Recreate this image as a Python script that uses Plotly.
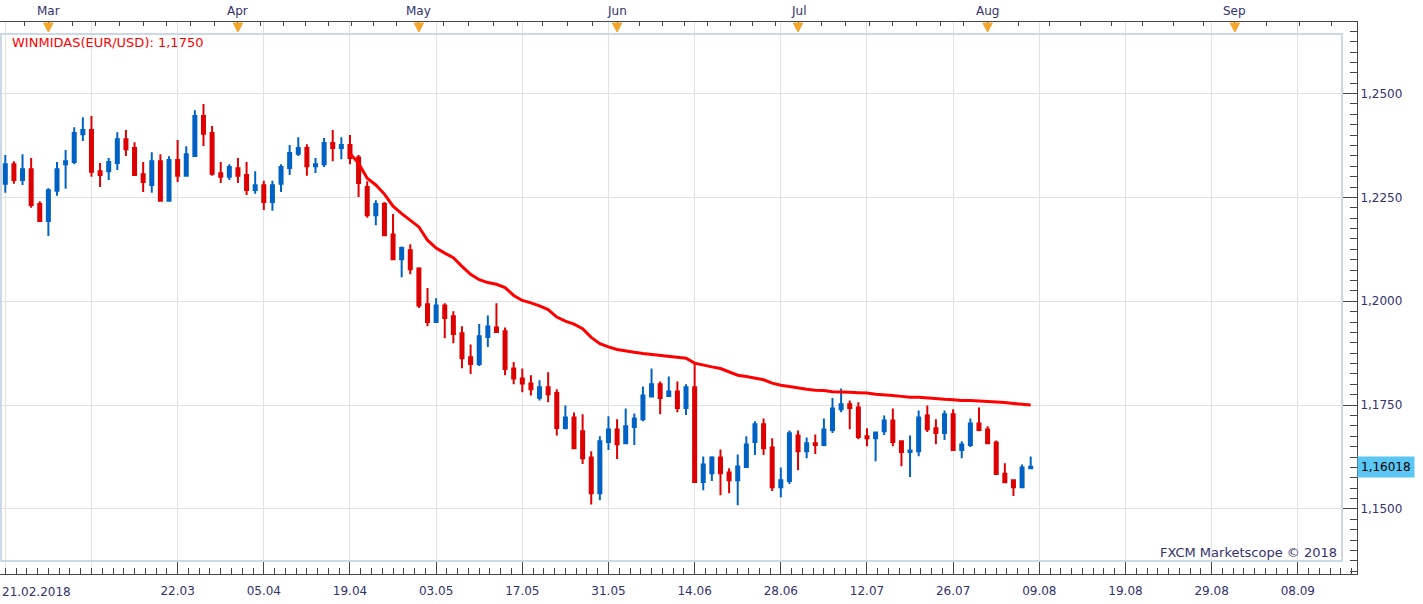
import plotly.graph_objects as go

# ---------------- data (EUR/USD daily, trading-day index 0 = 22.02.2018) ----------------
day_idx = list(range(120))

opens = [
    1.2283, 1.2330, 1.2292, 1.2318, 1.2234, 1.2193, 1.2266, 1.2330, 1.2335, 1.2402,
    1.2412, 1.2313, 1.2313, 1.2333, 1.2390, 1.2369, 1.2306, 1.2280, 1.2337, 1.2242,
    1.2340, 1.2302, 1.2350, 1.2446, 1.2405, 1.2308, 1.2300, 1.2320, 1.2304, 1.2268,
    1.2279, 1.2239, 1.2283, 1.2321, 1.2355, 1.2369, 1.2325, 1.2330, 1.2381, 1.2369,
    1.2376, 1.2346, 1.2275, 1.2207, 1.2234, 1.2161, 1.2101, 1.2123, 1.2079, 1.1993,
    1.1950, 1.1990, 1.1964, 1.1923, 1.1865, 1.1849, 1.1914, 1.1937, 1.1928, 1.1838,
    1.1814, 1.1802, 1.1768, 1.1793, 1.1779, 1.1695, 1.1720, 1.1687, 1.1624, 1.1538,
    1.1661, 1.1691, 1.1658, 1.1697, 1.1716, 1.1771, 1.1800, 1.1772, 1.1783, 1.1743,
    1.1793, 1.1565, 1.1586, 1.1624, 1.1588, 1.1569, 1.1601, 1.1661, 1.1704, 1.1648,
    1.1552, 1.1567, 1.1677, 1.1639, 1.1658, 1.1654, 1.1690, 1.1740, 1.1752, 1.1744,
    1.1675, 1.1670, 1.1687, 1.1713, 1.1663, 1.1637, 1.1639, 1.1725, 1.1694, 1.1683,
    1.1728, 1.1642, 1.1654, 1.1706, 1.1691, 1.1660, 1.1585, 1.1569, 1.1552, 1.1598,
]
highs = [
    1.2352, 1.2337, 1.2354, 1.2345, 1.2241, 1.2272, 1.2335, 1.2364, 1.2419, 1.2443,
    1.2446, 1.2333, 1.2345, 1.2407, 1.2412, 1.2383, 1.2335, 1.2359, 1.2354, 1.2349,
    1.2388, 1.2373, 1.2460, 1.2475, 1.2422, 1.2335, 1.2330, 1.2345, 1.2335, 1.2313,
    1.2290, 1.2290, 1.2330, 1.2376, 1.2395, 1.2378, 1.2345, 1.2393, 1.2412, 1.2395,
    1.2400, 1.2352, 1.2289, 1.2243, 1.2239, 1.2210, 1.2132, 1.2137, 1.2082, 1.2032,
    1.2007, 1.1995, 1.1976, 1.1940, 1.1896, 1.1945, 1.1966, 1.1995, 1.1937, 1.1854,
    1.1838, 1.1822, 1.1810, 1.1829, 1.1788, 1.1749, 1.1732, 1.1728, 1.1639, 1.1675,
    1.1723, 1.1716, 1.1742, 1.1730, 1.1795, 1.1838, 1.1807, 1.1819, 1.1807, 1.1800,
    1.1851, 1.1626, 1.1627, 1.1643, 1.1598, 1.1631, 1.1675, 1.1711, 1.1718, 1.1670,
    1.1600, 1.1689, 1.1689, 1.1672, 1.1679, 1.1718, 1.1767, 1.1790, 1.1761, 1.1757,
    1.1694, 1.1684, 1.1725, 1.1742, 1.1663, 1.1677, 1.1737, 1.1749, 1.1716, 1.1737,
    1.1740, 1.1663, 1.1718, 1.1744, 1.1699, 1.1665, 1.1610, 1.1569, 1.1607, 1.1626,
]
lows = [
    1.2261, 1.2283, 1.2280, 1.2225, 1.2191, 1.2157, 1.2254, 1.2271, 1.2330, 1.2386,
    1.2300, 1.2275, 1.2292, 1.2316, 1.2350, 1.2302, 1.2263, 1.2261, 1.2242, 1.2240,
    1.2287, 1.2300, 1.2348, 1.2374, 1.2302, 1.2285, 1.2292, 1.2285, 1.2256, 1.2259,
    1.2220, 1.2218, 1.2263, 1.2304, 1.2350, 1.2302, 1.2309, 1.2323, 1.2337, 1.2342,
    1.2330, 1.2251, 1.2201, 1.2183, 1.2159, 1.2100, 1.2058, 1.2065, 1.1984, 1.1940,
    1.1948, 1.1911, 1.1899, 1.1839, 1.1825, 1.1844, 1.1890, 1.1926, 1.1822, 1.1800,
    1.1781, 1.1773, 1.1761, 1.1757, 1.1677, 1.1691, 1.1646, 1.1608, 1.1511, 1.1521,
    1.1642, 1.1620, 1.1657, 1.1654, 1.1711, 1.1770, 1.1728, 1.1771, 1.1733, 1.1726,
    1.1564, 1.1545, 1.1567, 1.1533, 1.1538, 1.1509, 1.1600, 1.1630, 1.1630, 1.1543,
    1.1528, 1.1560, 1.1593, 1.1622, 1.1632, 1.1651, 1.1683, 1.1733, 1.1692, 1.1668,
    1.1651, 1.1615, 1.1678, 1.1651, 1.1603, 1.1577, 1.1627, 1.1685, 1.1656, 1.1666,
    1.1642, 1.1622, 1.1649, 1.1687, 1.1658, 1.1584, 1.1562, 1.1531, 1.1551, 1.1596,
]
closes = [
    1.2330, 1.2292, 1.2318, 1.2232, 1.2193, 1.2267, 1.2318, 1.2337, 1.2405, 1.2412,
    1.2312, 1.2304, 1.2335, 1.2390, 1.2366, 1.2304, 1.2287, 1.2337, 1.2242, 1.2340,
    1.2302, 1.2354, 1.2446, 1.2403, 1.2307, 1.2300, 1.2323, 1.2302, 1.2268, 1.2279,
    1.2239, 1.2279, 1.2323, 1.2357, 1.2369, 1.2325, 1.2330, 1.2381, 1.2369, 1.2376,
    1.2345, 1.2285, 1.2207, 1.2234, 1.2159, 1.2101, 1.2128, 1.2077, 1.1990, 1.1950,
    1.1990, 1.1960, 1.1921, 1.1863, 1.1849, 1.1916, 1.1939, 1.1926, 1.1837, 1.1814,
    1.1802, 1.1788, 1.1793, 1.1776, 1.1695, 1.1720, 1.1646, 1.1622, 1.1538, 1.1663,
    1.1691, 1.1656, 1.1699, 1.1718, 1.1773, 1.1800, 1.1767, 1.1783, 1.1743, 1.1793,
    1.1565, 1.1607, 1.1624, 1.1586, 1.1569, 1.1602, 1.1655, 1.1704, 1.1646, 1.1552,
    1.1569, 1.1682, 1.1639, 1.1658, 1.1654, 1.1691, 1.1742, 1.1752, 1.1743, 1.1673,
    1.1670, 1.1684, 1.1713, 1.1661, 1.1637, 1.1641, 1.1720, 1.1692, 1.1683, 1.1728,
    1.1642, 1.1655, 1.1706, 1.1690, 1.1658, 1.1584, 1.1564, 1.1552, 1.1600, 1.16018,
]

# WINMIDAS indicator (starts at trading day 40 = 19.04)
ma_idx = list(range(40, 120))
ma_vals = [
    1.2356, 1.2332, 1.2296, 1.2280, 1.2258, 1.2229, 1.2211, 1.2195, 1.2179, 1.2147,
    1.2128, 1.2116, 1.2105, 1.2084, 1.2065, 1.2052, 1.2045, 1.2041, 1.2033, 1.2014,
    1.2002, 1.1996, 1.1989, 1.1980, 1.1962, 1.1952, 1.1945, 1.1934, 1.1913, 1.1898,
    1.1890, 1.1884, 1.1880, 1.1877, 1.1874, 1.1872, 1.1869, 1.1867, 1.1865, 1.1863,
    1.1851, 1.1846, 1.1842, 1.1838, 1.1830, 1.1822, 1.1819, 1.1815, 1.1811, 1.1803,
    1.1798, 1.1795, 1.1791, 1.1788, 1.1786, 1.1785, 1.1782, 1.1782, 1.1781, 1.1780,
    1.1779, 1.1776, 1.1775, 1.1773, 1.1771, 1.1769, 1.1769, 1.1767, 1.1765, 1.1764,
    1.1763, 1.1761, 1.1761, 1.1760, 1.1759, 1.1758, 1.1756, 1.1754, 1.1752, 1.1750,
]

# bottom axis ticks (every 10 trading days)
x_tickvals = [0, 10, 20, 30, 40, 50, 60, 70, 80, 90, 100, 110, 120, 130, 140, 150]
x_ticktext = ["", "", "22.03", "05.04", "19.04", "03.05", "17.05", "31.05", "14.06",
              "28.06", "12.07", "26.07", "09.08", "19.08", "29.08", "08.09"]
first_date_label = "21.02.2018"

# top axis months
month_names = ["Mar", "Apr", "May", "Jun", "Jul", "Aug", "Sep"]
month_pos = [5, 27, 48, 71, 92, 114, 142.7]

# price axis
y_tickvals = [1.15, 1.175, 1.20, 1.225, 1.25]
y_ticktext = ["1,1500", "1,1750", "1,2000", "1,2250", "1,2500"]
last_price = 1.16018
last_price_text = "1,16018"
legend_text = "WINMIDAS(EUR/USD): 1,1750"
watermark = "FXCM Marketscope © 2018"

# ---------------- styling ----------------
BLUE = "#0062C4"
RED = "#DE0000"
MA_RED = "#FF0000"
AXIS = "#474747"
GRID = "#E2E2E2"
TXT = "#32326C"
FONT = "DejaVu Sans"

X_RANGE = [-0.615, 156.87]
Y_RANGE = [1.13434, 1.26723]

# top minor tick positions: 8 subdivisions per month
top_ticks = []
step0 = (month_pos[1] - month_pos[0]) / 8
p = month_pos[0] - step0
while p > X_RANGE[0]:
    top_ticks.append(p)
    p -= step0
for a, b in zip(month_pos[:-1], month_pos[1:]):
    for k in range(8):
        top_ticks.append(a + (b - a) * k / 8)
p = month_pos[-1]
while p < X_RANGE[1]:
    top_ticks.append(p)
    p += 3.72
top_ticks = sorted(top_ticks)

x_minor = [i * 1.25 for i in range(0, 126)]
y_minor = [1.13 + i * 0.0025 for i in range(0, 57)]

fig = go.Figure()

fig.add_trace(go.Candlestick(
    x=day_idx, open=opens, high=highs, low=lows, close=closes,
    increasing=dict(line=dict(color=BLUE, width=2), fillcolor=BLUE),
    decreasing=dict(line=dict(color=RED, width=2), fillcolor=RED),
    whiskerwidth=0, showlegend=False, hoverinfo="skip",
))

fig.add_trace(go.Scatter(
    x=ma_idx, y=ma_vals, mode="lines",
    line=dict(color=MA_RED, width=3), showlegend=False, hoverinfo="skip",
))

# dummy trace to activate top axis
fig.add_trace(go.Scatter(x=[None], y=[None], xaxis="x2", yaxis="y",
                         showlegend=False, hoverinfo="skip"))

shapes = []
# plot frame (light blue)
W, H = 1357.0, 552.0
shapes.append(dict(type="rect", xref="paper", yref="paper",
                   x0=1 / W, x1=1342 / W, y0=(574 - 561) / H, y1=(574 - 34) / H,
                   line=dict(color="#CCD8E6", width=2), fillcolor="rgba(0,0,0,0)",
                   layer="above"))
# orange month markers
for m in month_pos:
    shapes.append(dict(type="path", xref="x", yref="paper",
                       path=f"M {m - 0.55},{1 - 1 / H} L {m + 0.55},{1 - 1 / H} L {m},{1 - 10 / H} Z",
                       fillcolor="#F4A62A", line=dict(color="#F4A62A", width=1),
                       layer="above"))

annotations = []
for name, m in zip(month_names, month_pos):
    annotations.append(dict(x=m, xref="x", y=(574 - 11) / H, yref="paper",
                            text=name, showarrow=False, xanchor="center", yanchor="middle",
                            font=dict(family=FONT, size=12, color=TXT)))
annotations.append(dict(x=0, xref="paper", y=(574 - 592) / H, yref="paper",
                        text=first_date_label, showarrow=False, xanchor="left", yanchor="middle",
                        font=dict(family=FONT, size=12, color=TXT)))
annotations.append(dict(x=10 / W, xref="paper", y=(574 - 43) / H, yref="paper",
                        text=legend_text, showarrow=False, xanchor="left", yanchor="middle",
                        font=dict(family=FONT, size=13, color=MA_RED)))
annotations.append(dict(x=1339 / W, xref="paper", y=(574 - 552) / H, yref="paper",
                        text=watermark, showarrow=False, xanchor="right", yanchor="middle",
                        font=dict(family=FONT, size=13, color=TXT)))
annotations.append(dict(x=1.0, xref="paper", y=last_price, yref="y",
                        text=last_price_text, showarrow=False, xanchor="left", yanchor="middle",
                        bgcolor="#5BC6F3", borderpad=3,
                        font=dict(family=FONT, size=12, color="#000000")))

fig.update_layout(
    width=1423, height=604,
    margin=dict(l=0, r=66, t=22, b=30),
    paper_bgcolor="white", plot_bgcolor="white",
    showlegend=False,
    boxgap=0.5,
    shapes=shapes,
    annotations=annotations,
    xaxis=dict(
        range=X_RANGE, tickmode="array", tickvals=x_tickvals, ticktext=x_ticktext,
        ticks="inside", ticklen=12, tickwidth=1, tickcolor=AXIS,
        showline=True, linecolor=AXIS, linewidth=1,
        showgrid=True, gridcolor=GRID, gridwidth=1, zeroline=False,
        rangeslider=dict(visible=False),
        minor=dict(tickmode="array", tickvals=x_minor, ticks="inside", ticklen=6,
                   tickcolor=AXIS, tickwidth=1, showgrid=False),
        tickfont=dict(family=FONT, size=12, color=TXT),
        ticklabelstandoff=6,
        fixedrange=True,
    ),
    xaxis2=dict(
        overlaying="x", side="top", anchor="y", range=X_RANGE,
        tickmode="array", tickvals=top_ticks, showticklabels=False,
        ticks="inside", ticklen=4, tickcolor=AXIS, tickwidth=1,
        showline=True, linecolor=AXIS, linewidth=1,
        showgrid=False, zeroline=False, fixedrange=True,
    ),
    yaxis=dict(
        side="right", range=Y_RANGE, tickmode="array", tickvals=y_tickvals,
        ticktext=y_ticktext, ticks="inside", ticklen=15, tickwidth=1, tickcolor=AXIS,
        showline=True, linecolor=AXIS, linewidth=1,
        showgrid=True, gridcolor=GRID, gridwidth=1, zeroline=False,
        minor=dict(tickmode="array", tickvals=y_minor, ticks="inside", ticklen=7,
                   tickcolor=AXIS, tickwidth=1, showgrid=False),
        tickfont=dict(family=FONT, size=12, color=TXT),
        fixedrange=True,
    ),
)

fig.write_html("out.html")
